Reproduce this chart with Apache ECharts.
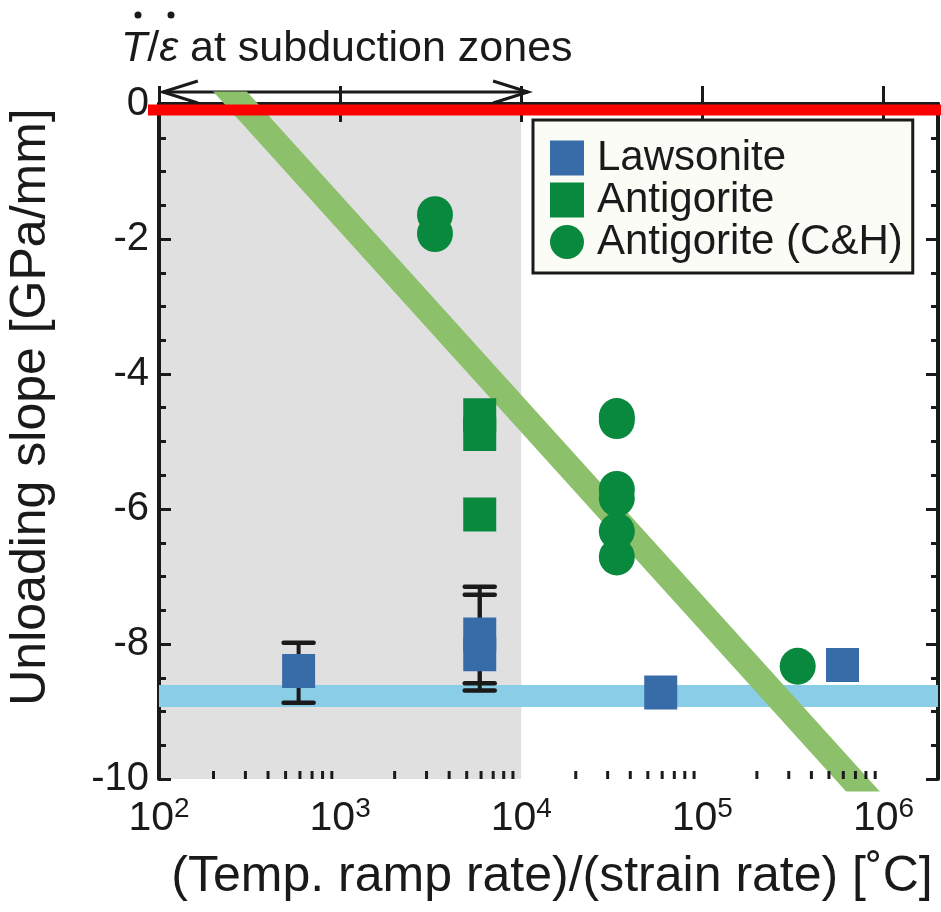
<!DOCTYPE html>
<html>
<head>
<meta charset="utf-8">
<script src="https://cdn.jsdelivr.net/npm/echarts@6/dist/echarts.min.js"></script>
<style>
  html, body { margin: 0; padding: 0; background: #ffffff; }
  #chart { width: 941px; height: 912px; }
</style>
</head>
<body>
<div id="chart"></div>
<script>
// Axis ranges
const xMin = 100, xMax = 2e6;
const yMin = -10, yMax = 0;
const yTickStep = 2;

// Minor tick positions on the log axis (2..9 in each decade)
const xMinorTicks = [200, 300, 400, 500, 600, 700, 800, 900,
  2000, 3000, 4000, 5000, 6000, 7000, 8000, 9000,
  20000, 30000, 40000, 50000, 60000, 70000, 80000, 90000,
  200000, 300000, 400000, 500000, 600000, 700000, 800000, 900000];

// Shaded range of T/ε at subduction zones
const subductionRange = [100, 10000];
// Extent of the double arrow above the plot
const arrowRange = [105, 10900];

// Lawsonite measurements with error bars
const lawX = [590, 5900, 5900, 58900, 594000];
const lawY = [-8.40, -7.86, -8.15, -8.72, -8.31];
const lawErrLow = [-8.87, -8.58, -8.69, null, null];
const lawErrHigh = [-7.98, -7.15, -7.27, null, null];

// Antigorite measurements
const antX = [5900, 5900, 5900];
const antY = [-4.61, -4.89, -6.08];

// Antigorite (C&H) measurements
const chX = [3340, 3340, 33700, 33700, 33700, 33700, 33700, 33700, 336000];
const chY = [-1.64, -1.92, -4.63, -4.69, -5.71, -5.84, -6.33, -6.71, -8.33];

// Trend line for antigorite and constant level for lawsonite
const trendX = [131, 1.45e6];
const trendY = [1, -11];
const lawLevelY = -8.77;

const ink = '#1a1a1a';
const font = "'Liberation Sans', Arial, Helvetica, sans-serif";

const chart = echarts.init(document.getElementById('chart'), null, { renderer: 'canvas' });

const errData = [];
lawX.forEach((x, i) => {
  if (lawErrLow[i] !== null) errData.push([x, lawErrLow[i], lawErrHigh[i]]);
});

const option = {
  animation: false,
  backgroundColor: '#ffffff',
  grid: { left: 159, right: 3, top: 104, bottom: 133 },
  xAxis: [
    {
      type: 'log', min: xMin, max: xMax, position: 'bottom',
      axisLine: { lineStyle: { color: ink, width: 4 } },
      axisTick: { inside: true, length: 18, lineStyle: { color: ink, width: 3 } },
      splitLine: { show: false },
      axisLabel: {
        margin: 16,
        formatter: v => '{b|10}{s|' + Math.round(Math.log10(v)) + '}',
        rich: {
          b: { fontSize: 41, fontFamily: font, color: ink, lineHeight: 44 },
          s: { fontSize: 28, fontFamily: font, color: ink, padding: [0, 0, 20, 0] }
        }
      }
    },
    {
      type: 'log', min: xMin, max: xMax, position: 'top',
      axisLine: { lineStyle: { color: ink, width: 4 } },
      axisTick: { inside: true, length: 18, lineStyle: { color: ink, width: 3 } },
      axisLabel: { show: false },
      splitLine: { show: false }
    }
  ],
  yAxis: [
    {
      type: 'value', min: yMin, max: yMax, interval: yTickStep, position: 'left',
      axisLine: { lineStyle: { color: ink, width: 4 } },
      axisTick: { inside: true, length: 12, lineStyle: { color: ink, width: 3 } },
      minorTick: { show: true, splitNumber: 4, length: 7, lineStyle: { color: ink, width: 3 } },
      splitLine: { show: false },
      axisLabel: { margin: 10, fontSize: 40, fontFamily: font, color: ink }
    },
    {
      type: 'value', min: yMin, max: yMax, interval: yTickStep, position: 'right',
      axisLine: { lineStyle: { color: ink, width: 4 } },
      axisTick: { inside: true, length: 12, lineStyle: { color: ink, width: 3 } },
      minorTick: { show: true, splitNumber: 4, length: 7, lineStyle: { color: ink, width: 3 } },
      splitLine: { show: false },
      axisLabel: { show: false }
    }
  ],
  legend: {
    data: [
      { name: 'Lawsonite', icon: 'rect' },
      { name: 'Antigorite', icon: 'rect' },
      { name: 'Antigorite (C&H)', icon: 'circle' }
    ],
    orient: 'vertical',
    left: 533, top: 120,
    padding: [17, 10, 10, 17],
    itemWidth: 34, itemHeight: 35, itemGap: 0,
    backgroundColor: '#fcfcf7',
    borderColor: ink, borderWidth: 3, borderRadius: 0,
    textStyle: { fontSize: 42, fontFamily: font, color: ink, lineHeight: 42, padding: [0, 0, 0, 8] }
  },
  series: [
    {
      // grey band for the subduction-zone range
      type: 'custom', z: 0, silent: true,
      xAxisIndex: 0, yAxisIndex: 0,
      data: [[subductionRange[0], subductionRange[1]]],
      renderItem: (params, api) => {
        const p0 = api.coord([api.value(0), yMax]);
        const p1 = api.coord([api.value(1), yMin]);
        return { type: 'rect', shape: { x: p0[0], y: p0[1], width: p1[0] - p0[0], height: p1[1] - p0[1] },
          style: { fill: '#e0e0e0' } };
      }
    },
    {
      // constant lawsonite level
      type: 'line', z: 1, silent: true, symbol: 'none', clip: true,
      data: [[xMin, lawLevelY], [xMax, lawLevelY]],
      lineStyle: { color: '#89cde7', width: 22, cap: 'butt' }
    },
    {
      // antigorite trend
      type: 'line', z: 2, silent: true, symbol: 'none', clip: true,
      data: trendX.map((x, i) => [x, trendY[i]]),
      lineStyle: { color: '#8cc06b', width: 25, cap: 'butt' }
    },
    {
      // minor ticks on the bottom log axis
      type: 'custom', z: 5, silent: true, clip: false,
      data: xMinorTicks.map(v => [v]),
      renderItem: (params, api) => {
        const p = api.coord([api.value(0), yMin]);
        return { type: 'line', shape: { x1: p[0], y1: p[1], x2: p[0], y2: p[1] - 8 },
          style: { stroke: ink, lineWidth: 3 } };
      }
    },
    {
      // error bars for lawsonite
      type: 'custom', z: 3, silent: true,
      data: errData,
      renderItem: (params, api) => {
        const x = api.value(0);
        const lo = api.coord([x, api.value(1)]);
        const hi = api.coord([x, api.value(2)]);
        const hw = 15;
        const st = { stroke: ink, lineWidth: 4.5, lineCap: 'round' };
        return { type: 'group', children: [
          { type: 'line', shape: { x1: lo[0], y1: lo[1], x2: hi[0], y2: hi[1] }, style: { stroke: ink, lineWidth: 4 } },
          { type: 'line', shape: { x1: lo[0] - hw, y1: lo[1], x2: lo[0] + hw, y2: lo[1] }, style: st },
          { type: 'line', shape: { x1: hi[0] - hw, y1: hi[1], x2: hi[0] + hw, y2: hi[1] }, style: st }
        ] };
      }
    },
    {
      name: 'Lawsonite', type: 'scatter', z: 4,
      symbol: 'rect', symbolSize: [33, 34],
      itemStyle: { color: '#386ca8', opacity: 1 },
      data: lawX.map((x, i) => [x, lawY[i]])
    },
    {
      name: 'Antigorite', type: 'scatter', z: 4,
      symbol: 'rect', symbolSize: [33, 34],
      itemStyle: { color: '#08893d', opacity: 1 },
      data: antX.map((x, i) => [x, antY[i]])
    },
    {
      name: 'Antigorite (C&H)', type: 'scatter', z: 4,
      symbol: 'circle', symbolSize: [36, 37],
      itemStyle: { color: '#08893d', opacity: 1 },
      data: chX.map((x, i) => [x, chY[i]])
    }
  ]
};

chart.setOption(option);

// Annotations: zero line, titles and the subduction-zone arrow
const zeroY = chart.convertToPixel({ yAxisIndex: 0 }, 0) + 6;
const arrowL = chart.convertToPixel({ xAxisIndex: 0 }, arrowRange[0]);
const arrowR = chart.convertToPixel({ xAxisIndex: 0 }, arrowRange[1]);
const arrowY = 92, headLen = 35, headSpread = 11;

chart.setOption({
  graphic: [
    {
      type: 'line', z: 100,
      shape: { x1: 148, y1: zeroY, x2: 941, y2: zeroY },
      style: { stroke: '#ff0000', lineWidth: 11 }
    },
    {
      type: 'group', z: 100,
      children: [
        { type: 'line', shape: { x1: arrowL, y1: arrowY, x2: arrowR, y2: arrowY }, style: { stroke: ink, lineWidth: 3 } },
        { type: 'polyline', shape: { points: [[arrowL + headLen, arrowY - headSpread], [arrowL, arrowY], [arrowL + headLen, arrowY + headSpread]] },
          style: { stroke: ink, lineWidth: 3, fill: null } },
        { type: 'polyline', shape: { points: [[arrowR - headLen, arrowY - headSpread], [arrowR, arrowY], [arrowR - headLen, arrowY + headSpread]] },
          style: { stroke: ink, lineWidth: 3, fill: null } }
      ]
    },
    {
      type: 'text', z: 100, x: 121, y: 49,
      style: {
        text: '{i|T}{n|/}{i|ε}{n| at subduction zones}',
        textVerticalAlign: 'middle', textAlign: 'left',
        rich: {
          i: { fontSize: 43, fontFamily: font, fontStyle: 'italic', fill: ink },
          n: { fontSize: 43, fontFamily: font, fill: ink }
        }
      }
    },
    { type: 'circle', z: 100, shape: { cx: 138, cy: 15, r: 3.5 }, style: { fill: ink } },
    { type: 'circle', z: 100, shape: { cx: 171, cy: 15, r: 3.5 }, style: { fill: ink } },
    {
      type: 'text', z: 100, x: 31, y: 407, rotation: Math.PI / 2,
      style: {
        text: 'Unloading slope [GPa/mm]',
        font: "50px " + font, fill: ink,
        textAlign: 'center', textVerticalAlign: 'middle'
      }
    },
    {
      type: 'text', z: 100, x: 552, y: 877,
      style: {
        text: '(Temp. ramp rate)/(strain rate) [˚C]',
        font: "50px " + font, fill: ink,
        textAlign: 'center', textVerticalAlign: 'middle'
      }
    }
  ]
});
</script>
</body>
</html>
